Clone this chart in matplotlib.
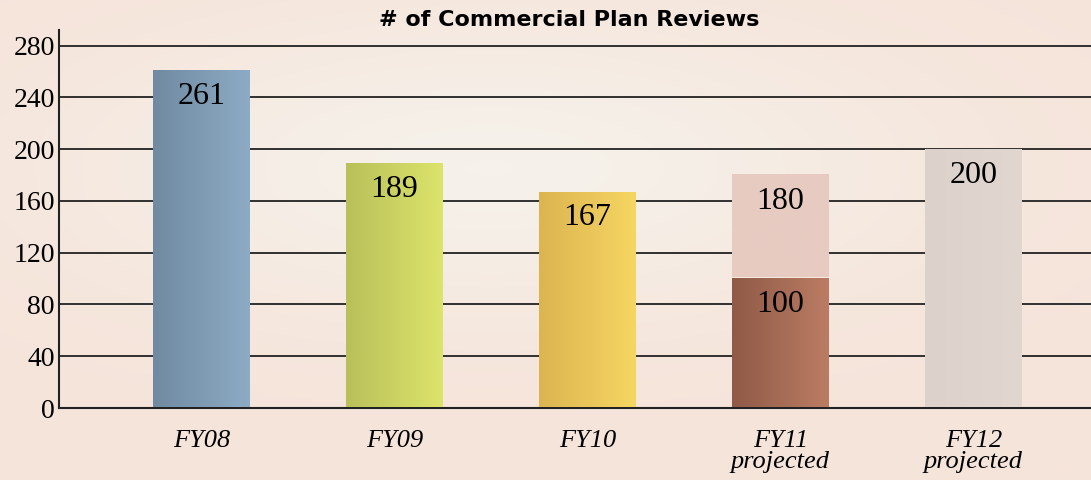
import numpy as np
import matplotlib.pyplot as plt

# data
years = ["FY08", "FY09", "FY10", "FY11\nprojected", "FY12\nprojected"]
reviews = [261, 189, 167, 100, 200]
fy11_projected = 180
yticks = [0, 40, 80, 120, 160, 200, 240, 280]

# gradient colours per bar (left, right)
bar_colors = [("#6f8aa1", "#8eabc5"),
              ("#b9c05a", "#dce46b"),
              ("#dcb451", "#f6d662"),
              ("#8f5a47", "#bb7c63"),
              ("#ddd1cb", "#e2d6d0")]
proj_color = "#e7cbc1"


def gradient_bar(ax, x, bottom, top, width, c1, c2):
    grad = np.linspace(0, 1, 256).reshape(1, -1)
    cmap = plt.matplotlib.colors.LinearSegmentedColormap.from_list("g", [c1, c2])
    ax.imshow(grad, cmap=cmap, aspect="auto", zorder=3,
              extent=[x - width / 2, x + width / 2, bottom, top])


fig = plt.figure(figsize=(10.91, 4.80), dpi=100)
fig.patch.set_facecolor("#f6e8df")

# soft background
bg = fig.add_axes([0, 0, 1, 1], zorder=-1)
yy, xx = np.mgrid[0:1:200j, 0:1:400j]
glow = np.exp(-((xx - 0.45) ** 2 / 0.15 + (yy - 0.35) ** 2 / 0.1))
bg.imshow(glow, cmap=plt.matplotlib.colors.LinearSegmentedColormap.from_list(
    "bg", ["#f5e4da", "#f6f1ea"]), aspect="auto", extent=[0, 1, 0, 1])
bg.axis("off")

ax = fig.add_axes([0.054, 0.15, 0.946, 0.7875])
ax.set_facecolor("none")
x = np.arange(len(years))
width = 0.5

for i, v in enumerate(reviews):
    if i == 3:
        gradient_bar(ax, x[i], v + 1.2, fy11_projected, width, proj_color, proj_color)
        ax.text(x[i], fy11_projected - 9, str(fy11_projected), ha="center", va="top",
                fontsize=23, family="Liberation Serif", zorder=5)
    gradient_bar(ax, x[i], 1, v, width, *bar_colors[i])
    ax.text(x[i], v - 9, str(v), ha="center", va="top",
            fontsize=23, family="Liberation Serif", zorder=5)

for t in yticks[1:]:
    ax.axhline(t, color="#222222", lw=1.3, zorder=1)

ax.set_xlim(-0.74, 4.61)
ax.set_ylim(0, 292)
ax.set_yticks(yticks)
ax.set_yticklabels([str(t) for t in yticks], family="Liberation Serif", fontsize=20)
ax.set_xticks(x)
ax.set_xticklabels(years, family="Liberation Serif", style="italic", fontsize=19,
                   linespacing=0.95)
ax.tick_params(length=0, pad=3)
ax.tick_params(axis="x", pad=16)
for s in ["top", "right"]:
    ax.spines[s].set_visible(False)
ax.spines["left"].set_color("#222222")
ax.spines["bottom"].set_color("#222222")
ax.spines["left"].set_linewidth(1.5)
ax.spines["bottom"].set_linewidth(1.5)

fig.text(0.522, 0.958, "# of Commercial Plan Reviews", ha="center", va="center",
         fontsize=16, fontweight="bold", family="DejaVu Sans")

fig.savefig("out.png", dpi=100, facecolor=fig.get_facecolor())
